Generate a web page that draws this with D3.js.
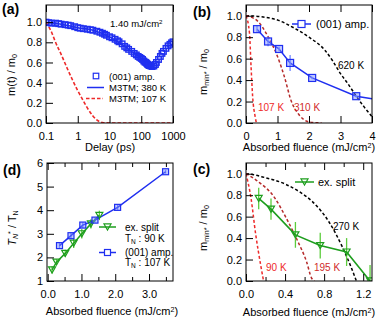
<!DOCTYPE html>
<html><head><meta charset="utf-8">
<script src="https://cdn.jsdelivr.net/npm/d3@7"></script>
<style>body{margin:0;background:#fff}svg{display:block;font-family:"Liberation Sans",Arial,sans-serif}</style>
</head><body><svg id="c" width="376" height="319"></svg>
<script>
// ---------- (a) ----------
const delayPs = [0.1,0.12,0.15,0.2,0.25,0.3,0.4,0.5,0.6,0.8,1,1.2,1.5,2,2.5,3,4,5,6,7,8,10,12,15,18,20,25,30,35,40,50,60,70,80,90,100,110,120,130,140,150,160,170,180,200,220,250,280,300,350,400,450,500,600,700,800,900,1000];
const ampA =    [1.0,0.995,0.99,0.99,0.985,0.98,0.975,0.97,0.965,0.955,0.945,0.94,0.935,0.93,0.925,0.92,0.91,0.9,0.89,0.88,0.87,0.855,0.845,0.83,0.815,0.805,0.785,0.76,0.745,0.73,0.71,0.69,0.675,0.66,0.65,0.64,0.63,0.615,0.605,0.6,0.59,0.58,0.575,0.57,0.565,0.56,0.565,0.58,0.6,0.63,0.66,0.69,0.71,0.74,0.765,0.78,0.795,0.805];
const m3tm380Delay = [0.1,0.3,1,3,10,30,60,100,150,200];
const m3tm380 =      [1.0,0.98,0.945,0.92,0.855,0.76,0.69,0.64,0.59,0.565];
const m3tm107Delay = [0.1,0.15,0.2,0.3,0.5,0.7,1,1.5,2,3,4,6,10,100,1000];
const m3tm107 =      [1.0,0.9,0.8,0.68,0.52,0.42,0.32,0.22,0.15,0.07,0.03,0.005,0,0,0];
const delayTicks = [0.1,1,10,100,1000];
// ---------- (b) ----------
const fluenceB = [0.35,0.7,1.05,1.4,2.1,3.5];
const ampB =     [0.875,0.76,0.69,0.56,0.42,0.25];
const ampBErr =  [0.03,0.045,0.02,0.075,0.012,0.012];
const ampBLineX = [0.35,0.7,1.05,1.4,2.1,3.5,4.0];
const ampBLineY = [0.875,0.76,0.69,0.56,0.42,0.25,0.225];
const b620X = [0,0.5,1.0,1.5,2.0,2.5,2.75,3.0,3.25,3.5,3.75,4.0];
const b620Y = [1,0.99,0.96,0.89,0.8,0.68,0.58,0.46,0.36,0.25,0.15,0.06];
const b310X = [0,0.37,0.69,1.0,1.22,1.43,1.69,2.0,2.4];
const b310Y = [1,0.95,0.81,0.62,0.43,0.21,0.075,0.01,0];
const b107X = [0,0.11,0.16,0.21,0.29,0.33];
const b107Y = [1,0.84,0.53,0.25,0.06,0];
// ---------- (c) ----------
const fluenceC = [0.13,0.256,0.506,0.76,1.03,1.27];
const splitC =   [0.77,0.67,0.43,0.33,0.27,0.0];
const splitCErr =[0.1,0.1,0.12,0.12,0.13,0.15];
const c270X = [0,0.08,0.17,0.41,0.55,0.68,0.85,0.99,1.08,1.13];
const c270Y = [1,0.99,0.97,0.9,0.83,0.74,0.55,0.31,0.12,0.0];
const c195X = [0,0.12,0.29,0.41,0.53,0.62,0.67,0.7];
const c195Y = [1,0.93,0.78,0.59,0.37,0.18,0.03,0];
const c90X = [0,0.05,0.1,0.15,0.18];
const c90Y = [1,0.78,0.43,0.15,0.0];
// ---------- (d) ----------
const fluenceDAmp = [0.35,0.69,1.04,1.4,2.07,3.49];
const ratioAmp =    [2.5,2.92,3.37,3.58,4.12,5.63];
const ratioAmpErr = [0.12,0.12,0.12,0.1,0.1,0.08];
const fluenceDSplit = [0.13,0.26,0.52,0.77,1.01,1.28,1.53];
const ratioSplit =    [1.47,1.8,2.17,2.6,3.0,3.42,3.78];
const ratioSplitErr = [0.15,0.12,0.15,0.2,0.2,0.2,0.2];

const BLUE="#1f2ff0", GREEN="#1e9e1e", GREENE="#5ccc3c", RED="#ee2a2a", DRED="#b52a2a";
const svg = d3.select("#c");
let clipN=0;

function panel(p){
  const x = p.log ? d3.scaleLog().domain(p.xd).range([p.x0,p.x1]) : d3.scaleLinear().domain(p.xd).range([p.x0,p.x1]);
  const y = d3.scaleLinear().domain(p.yd).range([p.y1,p.y0]);
  const id="clip"+(clipN++);
  svg.append("clipPath").attr("id",id).append("rect").attr("x",p.x0).attr("y",p.y0).attr("width",p.x1-p.x0).attr("height",p.y1-p.y0);
  const g = svg.append("g").attr("clip-path",`url(#${id})`);
  const style = s => s.attr("font-family",'"Liberation Sans",Arial,sans-serif').attr("font-size",11)
      .call(s=>s.select(".domain").remove()).call(s=>s.selectAll("line").attr("stroke","#000"));
  svg.append("g").attr("transform",`translate(0,${p.y1})`)
    .call(d3.axisBottom(x).tickValues(p.xTicks).tickFormat(p.xFmt).tickSizeInner(-7).tickSizeOuter(0).tickPadding(9)).call(style);
  svg.append("g").attr("transform",`translate(0,${p.y0})`)
    .call(d3.axisTop(x).tickValues(p.xTicks).tickFormat("").tickSizeInner(-7).tickSizeOuter(0)).call(style);
  if(p.xMinor){
    svg.append("g").attr("transform",`translate(0,${p.y1})`)
      .call(d3.axisBottom(x).tickValues(p.xMinor).tickFormat("").tickSizeInner(-4).tickSizeOuter(0)).call(style);
    svg.append("g").attr("transform",`translate(0,${p.y0})`)
      .call(d3.axisTop(x).tickValues(p.xMinor).tickFormat("").tickSizeInner(-4).tickSizeOuter(0)).call(style);
  }
  svg.append("g").attr("transform",`translate(${p.x0},0)`)
    .call(d3.axisLeft(y).tickValues(p.yTicks).tickFormat(p.yFmt).tickSizeInner(-7).tickSizeOuter(0).tickPadding(4)).call(style);
  svg.append("rect").attr("x",p.x0).attr("y",p.y0).attr("width",p.x1-p.x0).attr("height",p.y1-p.y0)
    .attr("fill","none").attr("stroke","#000").attr("stroke-width",1);
  return {g,x,y};
}
function curve(P,xs,ys,color,dash,w,c){
  P.g.append("path").datum(xs.map((v,i)=>[v,ys[i]]))
    .attr("d",d3.line().x(d=>P.x(d[0])).y(d=>P.y(d[1])).curve(c||d3.curveMonotoneX))
    .attr("fill","none").attr("stroke",color).attr("stroke-width",w||1.5).attr("stroke-dasharray",dash||null);
}
function errbars(P,xs,ys,es,color){
  P.g.selectAll(null).data(xs.map((v,i)=>[v,ys[i],es[i]])).join("line")
    .attr("x1",d=>P.x(d[0])).attr("x2",d=>P.x(d[0])).attr("y1",d=>P.y(d[1]-d[2])).attr("y2",d=>P.y(d[1]+d[2]))
    .attr("stroke",color).attr("stroke-width",1.3);
}
function squares(G,pts,size,fill,sw){
  G.selectAll(null).data(pts).join("rect")
    .attr("x",d=>d[0]-size/2).attr("y",d=>d[1]-size/2).attr("width",size).attr("height",size)
    .attr("fill",fill||"none").attr("stroke",BLUE).attr("stroke-width",sw||1.2);
}
function tris(G,pts,size){
  const h=size*0.87;
  G.selectAll(null).data(pts).join("path")
    .attr("d",d=>`M${d[0]-size/2},${d[1]-h/2}L${d[0]+size/2},${d[1]-h/2}L${d[0]},${d[1]+h/2}Z`)
    .attr("fill","none").attr("stroke",GREEN).attr("stroke-width",1.2);
}
function txt(x,y,s,size,opts={}){
  const t=svg.append("text").attr("x",x).attr("y",y).attr("font-size",size).attr("fill",opts.fill||"#000")
    .attr("font-weight",opts.bold?"bold":null).attr("text-anchor",opts.anchor||"start");
  if(s) t.text(s);
  if(opts.rot) t.attr("transform",`rotate(-90,${x},${y})`);
  return t;
}
function rich(t,parts){
  parts.forEach(([s,k])=>{
    const ts=t.append("tspan").text(s);
    if(k==="sub") ts.attr("font-size","0.65em").attr("baseline-shift","-25%");
    if(k==="sup") ts.attr("font-size","0.65em").attr("baseline-shift","45%");
    if(k==="it") ts.attr("font-style","italic");
    if(k==="itsub") ts.attr("font-size","0.65em").attr("baseline-shift","-25%").attr("font-style","italic");
  });
  return t;
}
const f1=d3.format(".1f"), f0=d3.format("d");
const fluenceTitle = (x,y)=>rich(txt(x,y,"",11,{anchor:"middle"}),[["Absorbed fluence (mJ/cm","n"],["2","sup"],[")","n"]]);

// ===== (a) =====
const A = panel({x0:46,x1:173,y0:5,y1:123,log:true,xd:[0.1,1000],yd:[0,1.17],
  xTicks:delayTicks,xFmt:d=>String(d),yTicks:[0,0.2,0.4,0.6,0.8,1.0],yFmt:f1});
curve(A,m3tm380Delay,m3tm380,BLUE,null,1.5);
curve(A,m3tm107Delay,m3tm107,RED,"3.5,2",1.6);
squares(A.g,delayPs.map((t,i)=>[A.x(t),A.y(ampA[i])]),5.5,"none",1.4);
rich(txt(110,27,"",9.5),[["1.40 mJ/cm","n"],["2","sup"]]);
squares(svg,[[96,76]],5.5,"none",1.2);
txt(109,79.5,"(001) amp.",9.5);
svg.append("line").attr("x1",87).attr("x2",104).attr("y1",87.5).attr("y2",87.5).attr("stroke",BLUE).attr("stroke-width",1.5);
txt(109,91,"M3TM; 380 K",9.5);
svg.append("line").attr("x1",86).attr("x2",103).attr("y1",98.5).attr("y2",98.5).attr("stroke",RED).attr("stroke-width",1.6).attr("stroke-dasharray","3.5,2");
txt(109,102,"M3TM; 107 K",9.5);
txt(110,151,"Delay (ps)",11,{anchor:"middle"});
rich(txt(15,75,"",11,{anchor:"middle",rot:true}),[["m(t) / m","n"],["0","sub"]]);
txt(2,14,"(a)",14,{bold:true});

// ===== (b) =====
const B = panel({x0:246,x1:372,y0:5,y1:123,xd:[0,4],yd:[0,1.1],
  xTicks:[0,1,2,3,4],xFmt:f0,yTicks:[0,0.2,0.4,0.6,0.8,1.0],yFmt:f1});
curve(B,b620X,b620Y,"#000","3,2.2",1.5);
curve(B,b310X,b310Y,DRED,"3,2.2",1.5);
curve(B,b107X,b107Y,RED,"3,2.2",1.5);
curve(B,ampBLineX,ampBLineY,BLUE,null,1.5,d3.curveLinear);
errbars(B,fluenceB,ampB,ampBErr,"#6f86ff");
squares(B.g,fluenceB.map((v,i)=>[B.x(v),B.y(ampB[i])]),7,"rgba(120,140,255,0.45)");
svg.append("line").attr("x1",292).attr("x2",311).attr("y1",24).attr("y2",24).attr("stroke",BLUE).attr("stroke-width",1.5);
squares(svg,[[301.5,24]],7,"#fff");
txt(316,28,"(001) amp.",11);
txt(258,111,"107 K",10,{fill:RED});
txt(294,111,"310 K",10,{fill:"#d02a2a"});
txt(338,68.5,"620 K",10);
fluenceTitle(309,151);
rich(txt(207,72,"",11,{anchor:"middle",rot:true}),[["m","n"],["min*","sub"],[" / m","n"],["0","sub"]]);
txt(193,17,"(b)",14,{bold:true});

// ===== (d) =====
const D = panel({x0:47,x1:173,y0:163,y1:281,xd:[-0.02,3.71],yd:[1,6],
  xTicks:[0,1,2,3],xMinor:[0.5,1.5,2.5,3.5],xFmt:f1,yTicks:[1,2,3,4,5,6],yFmt:f0});
errbars(D,fluenceDSplit,ratioSplit,ratioSplitErr,GREENE);
errbars(D,fluenceDAmp,ratioAmp,ratioAmpErr,"#6f86ff");
curve(D,fluenceDSplit,ratioSplit,GREEN,null,1.5,d3.curveLinear);
curve(D,fluenceDAmp,ratioAmp,BLUE,null,1.5,d3.curveLinear);
tris(D.g,fluenceDSplit.map((v,i)=>[D.x(v),D.y(ratioSplit[i])]),7);
squares(D.g,fluenceDAmp.map((v,i)=>[D.x(v),D.y(ratioAmp[i])]),6,"rgba(120,140,255,0.45)");
svg.append("line").attr("x1",99).attr("x2",116).attr("y1",227).attr("y2",227).attr("stroke",GREEN).attr("stroke-width",1.5);
tris(svg,[[107.5,227]],7);
txt(125,230.5,"ex. split",10);
rich(txt(125,242,"",10),[["T","n"],["N","sub"],[" : 90 K","n"]]);
svg.append("line").attr("x1",99).attr("x2",116).attr("y1",252.5).attr("y2",252.5).attr("stroke",BLUE).attr("stroke-width",1.5);
squares(svg,[[107.5,252.5]],6,"#fff");
txt(125,256,"(001) amp.",10);
rich(txt(125,265.5,"",10),[["T","n"],["N","sub"],[" : 107 K","n"]]);
fluenceTitle(112,315);
rich(txt(16,228,"",11,{anchor:"middle",rot:true}),[["T","it"],["N","itsub"],["*","sup"],[" / T","n"],["N","sub"]]);
txt(3,175,"(d)",14,{bold:true});

// ===== (c) =====
const C = panel({x0:246,x1:372,y0:163,y1:281,xd:[0,1.29],yd:[0,1.1],
  xTicks:[0,0.4,0.8,1.2],xMinor:[0.2,0.6,1.0],xFmt:f1,yTicks:[0,0.2,0.4,0.6,0.8,1.0],yFmt:f1});
curve(C,c270X,c270Y,"#000","3,2.2",1.5);
curve(C,c195X,c195Y,DRED,"3,2.2",1.5);
curve(C,c90X,c90Y,RED,"3,2.2",1.5);
errbars(C,fluenceC,splitC,splitCErr,GREENE);
curve(C,fluenceC,splitC,GREEN,null,1.6,d3.curveLinear);
tris(C.g,fluenceC.map((v,i)=>[C.x(v),C.y(splitC[i])]),7);
svg.append("line").attr("x1",295).attr("x2",314).attr("y1",182).attr("y2",182).attr("stroke",GREEN).attr("stroke-width",1.5);
tris(svg,[[304.5,182]],7);
txt(318,185.5,"ex. split",11);
txt(266,271,"90 K",10,{fill:RED});
txt(314,271,"195 K",10,{fill:"#d02a2a"});
txt(333,229.5,"270 K",10);
fluenceTitle(309,316);
rich(txt(207,228,"",11,{anchor:"middle",rot:true}),[["m","n"],["min*","sub"],[" / m","n"],["0","sub"]]);
txt(193,174,"(c)",14,{bold:true});
</script></body></html>
